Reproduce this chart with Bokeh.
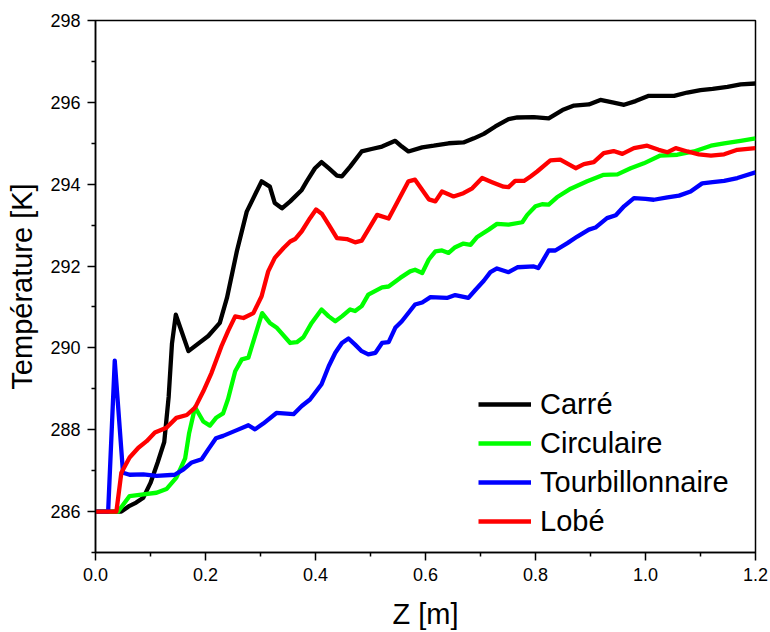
from bokeh.plotting import figure
from bokeh.models import (Range1d, FixedTicker, Legend, LegendItem,
                          NumeralTickFormatter)
from bokeh.embed import file_html
from bokeh.resources import INLINE

# ---------------- data ----------------
carre_x = [0, 0.047, 0.062, 0.074, 0.087, 0.100, 0.113, 0.125, 0.133, 0.139, 0.146,
           0.169, 0.205, 0.226, 0.239, 0.257, 0.275, 0.287, 0.302, 0.317, 0.326,
           0.339, 0.354, 0.375, 0.384, 0.399, 0.411, 0.424, 0.439, 0.448, 0.463,
           0.484, 0.502, 0.521, 0.545, 0.557, 0.569, 0.594, 0.615, 0.642, 0.669,
           0.688, 0.706, 0.727, 0.751, 0.767, 0.797, 0.824, 0.849, 0.870, 0.897,
           0.918, 0.940, 0.961, 0.982, 1.006, 1.027, 1.052, 1.076, 1.100, 1.122,
           1.149, 1.173, 1.200]
carre_y = [286.0, 286.0, 286.14, 286.22, 286.34, 286.70, 287.20, 287.70, 288.80, 290.10, 290.81,
           289.92, 290.29, 290.61, 291.22, 292.36, 293.33, 293.66, 294.07, 293.94, 293.54,
           293.41, 293.58, 293.86, 294.07, 294.39, 294.54, 294.39, 294.21, 294.19, 294.43,
           294.80, 294.86, 294.92, 295.06, 294.92, 294.80, 294.90, 294.94, 295.00, 295.02,
           295.12, 295.23, 295.41, 295.59, 295.63, 295.64, 295.61, 295.81, 295.92, 295.95,
           296.06, 296.00, 295.94, 296.03, 296.16, 296.16, 296.16, 296.24, 296.30, 296.33,
           296.38, 296.44, 296.46]

circ_x = [0, 0.041, 0.062, 0.087, 0.111, 0.129, 0.147, 0.163, 0.170, 0.181, 0.196,
          0.208, 0.220, 0.232, 0.241, 0.254, 0.266, 0.278, 0.290, 0.303, 0.317,
          0.329, 0.354, 0.366, 0.378, 0.393, 0.411, 0.424, 0.436, 0.448, 0.463,
          0.472, 0.484, 0.496, 0.521, 0.533, 0.554, 0.572, 0.581, 0.594, 0.606,
          0.618, 0.630, 0.642, 0.654, 0.669, 0.682, 0.694, 0.715, 0.730, 0.751,
          0.776, 0.785, 0.800, 0.812, 0.824, 0.839, 0.864, 0.894, 0.924, 0.949,
          0.973, 0.997, 1.027, 1.058, 1.088, 1.119, 1.143, 1.173, 1.200]
circ_y = [286.0, 286.0, 286.38, 286.42, 286.46, 286.55, 286.83, 287.30, 287.90, 288.55, 288.20,
          288.10, 288.30, 288.40, 288.75, 289.43, 289.72, 289.76, 290.29, 290.85, 290.61,
          290.50, 290.12, 290.14, 290.26, 290.61, 290.94, 290.77, 290.65, 290.77, 290.94,
          290.90, 291.02, 291.30, 291.48, 291.50, 291.71, 291.87, 291.91, 291.83, 292.16,
          292.36, 292.38, 292.32, 292.46, 292.55, 292.52, 292.71, 292.89, 293.03, 293.01,
          293.07, 293.25, 293.46, 293.51, 293.50, 293.68, 293.89, 294.07, 294.23, 294.24,
          294.39, 294.51, 294.70, 294.72, 294.80, 294.94, 295.00, 295.06, 295.12]

tourb_x = [0, 0.023, 0.035, 0.050, 0.062, 0.087, 0.111, 0.144, 0.160, 0.175, 0.193,
           0.205, 0.219, 0.232, 0.257, 0.278, 0.290, 0.305, 0.329, 0.360, 0.375,
           0.390, 0.411, 0.424, 0.436, 0.448, 0.460, 0.472, 0.484, 0.496, 0.509,
           0.521, 0.533, 0.545, 0.557, 0.581, 0.594, 0.609, 0.639, 0.654, 0.678,
           0.691, 0.706, 0.718, 0.730, 0.751, 0.767, 0.797, 0.805, 0.812, 0.824,
           0.836, 0.858, 0.876, 0.897, 0.909, 0.930, 0.946, 0.961, 0.979, 1.000,
           1.015, 1.040, 1.061, 1.082, 1.103, 1.122, 1.143, 1.167, 1.200]
tourb_y = [286.0, 286.0, 289.69, 286.95, 286.90, 286.91, 286.87, 286.90, 287.03, 287.20, 287.28,
           287.52, 287.79, 287.85, 287.99, 288.11, 288.01, 288.15, 288.41, 288.38, 288.58,
           288.74, 289.11, 289.55, 289.88, 290.12, 290.23, 290.08, 289.92, 289.84, 289.88,
           290.12, 290.14, 290.49, 290.65, 291.06, 291.11, 291.24, 291.22, 291.29, 291.22,
           291.42, 291.64, 291.85, 291.94, 291.85, 291.97, 291.99, 291.95, 292.10, 292.38,
           292.38, 292.56, 292.72, 292.89, 292.94, 293.17, 293.24, 293.46, 293.66, 293.64,
           293.62, 293.68, 293.72, 293.82, 294.02, 294.05, 294.08, 294.15, 294.29]

lobe_x = [0, 0.038, 0.047, 0.062, 0.078, 0.093, 0.108, 0.129, 0.147, 0.166, 0.181,
          0.196, 0.211, 0.229, 0.241, 0.254, 0.269, 0.287, 0.302, 0.314, 0.326,
          0.342, 0.354, 0.363, 0.375, 0.390, 0.401, 0.412, 0.424, 0.439, 0.457,
          0.472, 0.484, 0.496, 0.512, 0.533, 0.548, 0.569, 0.581, 0.606, 0.618,
          0.630, 0.651, 0.669, 0.685, 0.703, 0.721, 0.742, 0.751, 0.763, 0.779,
          0.791, 0.803, 0.827, 0.845, 0.873, 0.888, 0.906, 0.924, 0.942, 0.958,
          0.979, 1.003, 1.024, 1.040, 1.055, 1.076, 1.097, 1.119, 1.143, 1.167, 1.200]
lobe_y = [286.0, 286.0, 286.95, 287.32, 287.56, 287.72, 287.93, 288.05, 288.29, 288.36, 288.54,
          288.94, 289.39, 290.04, 290.41, 290.77, 290.73, 290.85, 291.26, 291.87, 292.20,
          292.44, 292.60, 292.66, 292.85, 293.17, 293.38, 293.27, 293.01, 292.68, 292.66,
          292.58, 292.62, 292.89, 293.25, 293.16, 293.54, 294.07, 294.11, 293.63, 293.58,
          293.82, 293.70, 293.78, 293.90, 294.15, 294.05, 293.94, 293.93, 294.08, 294.08,
          294.19, 294.31, 294.58, 294.60, 294.39, 294.49, 294.54, 294.76, 294.81, 294.74,
          294.88, 294.94, 294.84, 294.78, 294.88, 294.80, 294.73, 294.70, 294.73, 294.84, 294.88]

series_names = ["Carré", "Circulaire", "Tourbillonnaire", "Lobé"]
series_colors = ["#000000", "#00FF00", "#0000FF", "#FF0000"]

x_ticks = [0.0, 0.2, 0.4, 0.6, 0.8, 1.0, 1.2]
x_minor = [0.1, 0.3, 0.5, 0.7, 0.9, 1.1]
y_ticks = [286, 288, 290, 292, 294, 296, 298]
y_minor = [285, 287, 289, 291, 293, 295, 297]

FONT = "Liberation Sans"

p = figure(width=770, height=632, output_backend="svg", toolbar_location=None,
           x_range=Range1d(0, 1.2), y_range=Range1d(285, 298),
           min_border_left=95, min_border_right=15, min_border_top=20,
           min_border_bottom=80)
p.background_fill_color = "white"
p.border_fill_color = "white"
p.grid.visible = False
p.outline_line_color = "black"
p.outline_line_width = 1.5

for ax in (p.xaxis[0], p.yaxis[0]):
    ax.axis_line_width = 1.5
    ax.major_tick_line_width = 1.5
    ax.minor_tick_line_width = 1.5
    ax.major_tick_out = 8
    ax.major_tick_in = 0
    ax.minor_tick_out = 4
    ax.minor_tick_in = 0
    ax.major_label_text_font = FONT
    ax.major_label_text_font_size = "18px"
    ax.major_label_text_color = "black"
    ax.major_label_standoff = 7
    ax.axis_label_text_font = FONT
    ax.axis_label_text_font_size = "29px"
    ax.axis_label_text_font_style = "normal"
    ax.axis_label_text_color = "black"

p.xaxis[0].ticker = FixedTicker(ticks=x_ticks, minor_ticks=x_minor)
p.yaxis[0].ticker = FixedTicker(ticks=y_ticks, minor_ticks=y_minor)
p.xaxis[0].formatter = NumeralTickFormatter(format="0.0")
p.yaxis[0].formatter = NumeralTickFormatter(format="0")
p.xaxis[0].axis_label = "Z [m]"
p.yaxis[0].axis_label = "Température [K]"
p.xaxis[0].axis_label_standoff = 14
p.yaxis[0].axis_label_standoff = 9

xs = [carre_x, circ_x, tourb_x, lobe_x]
ys = [carre_y, circ_y, tourb_y, lobe_y]
items = []
for name, col, xx, yy in zip(series_names, series_colors, xs, ys):
    r = p.line(xx, yy, line_color=col, line_width=4.3, line_join="round")
    items.append(LegendItem(label=name, renderers=[r]))

legend = Legend(items=items, location=(383, 14), border_line_color=None,
                background_fill_alpha=0, padding=0, margin=0, spacing=5,
                glyph_width=53, glyph_height=34, label_height=34,
                label_standoff=9, label_text_font=FONT,
                label_text_font_size="29px", label_text_color="black")
p.add_layout(legend, "center")

open("out.html", "w").write(file_html(p, INLINE))
